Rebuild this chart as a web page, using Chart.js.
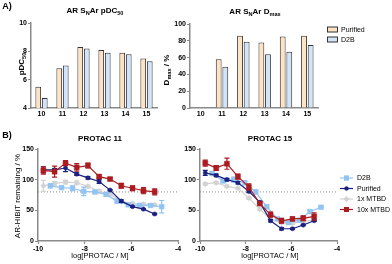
<!DOCTYPE html>
<html>
<head>
<meta charset="utf-8">
<script src="https://cdn.jsdelivr.net/npm/chart.js@4.4.1/dist/chart.umd.min.js"></script>
<style>
  html, body { margin: 0; padding: 0; background: #fff; }
  #fig { position: relative; width: 392px; height: 264px; overflow: hidden; font-family: "Liberation Sans", Arial, sans-serif; color: #000; }
  #fig canvas { position: absolute; left: 0; top: 0; }
  .lbl { position: absolute; white-space: nowrap; transform: translate(-50%, -50%); line-height: 1; }
  .rot { transform: translate(-50%, -50%) rotate(-90deg); }
  .b { font-weight: bold; }
  sub { font-size: 70%; vertical-align: -0.3em; line-height: 0; }
</style>
</head>
<body>
<div id="fig">
  <canvas id="cPdc" width="392" height="264"></canvas>
  <canvas id="cDmax" width="392" height="264"></canvas>
  <canvas id="cP11" width="392" height="264"></canvas>
  <canvas id="cP15" width="392" height="264"></canvas>

  <div class="lbl b" style="left:7px;top:6px;font-size:9px">A)</div>
  <div class="lbl b" style="left:7px;top:135px;font-size:9px">B)</div>

  <div class="lbl b" style="left:95px;top:11px;font-size:8px">AR S<sub>N</sub>Ar pDC<sub>50</sub></div>
  <div class="lbl b" style="left:255px;top:12px;font-size:8px">AR S<sub>N</sub>Ar D<sub>max</sub></div>
  <div class="lbl b rot" style="left:22px;top:64px;font-size:8px">pDC<sub>50</sub></div>
  <div class="lbl b rot" style="left:167px;top:70px;font-size:8px">D<sub>max</sub> / %</div>

  <div class="lbl b" style="left:100px;top:139px;font-size:8px">PROTAC 11</div>
  <div class="lbl b" style="left:270px;top:139px;font-size:8px">PROTAC 15</div>
  <div class="lbl rot" style="left:18px;top:196px;font-size:8px">AR-HiBiT remaining / %</div>
  <div class="lbl" style="left:100px;top:256px;font-size:7.5px">log[PROTAC / M]</div>
  <div class="lbl" style="left:270px;top:256px;font-size:7.5px">log[PROTAC / M]</div>
</div>

<script>
// ----------------------
// DATA
// ----------------------
const compounds = ["10", "11", "12", "13", "14", "15"];
const pdc50Purified = [5.5, 6.8, 8.3, 8.1, 7.9, 7.5];
const pdc50D2B = [4.7, 7.0, 8.2, 7.9, 7.8, 7.3];
const dmaxPurified = [null, 58, 86, 78, 85, 86];
const dmaxD2B = [null, 49, 79, 64, 67, 75];

const pdcTicks = [4, 6, 8, 10];
const dmaxTicks = [0, 20, 40, 60, 80, 100];
const remainTicks = [0, 50, 100, 150];
const logTicks = [-10, -8, -6, -4];
const cutoff = 80;

// 3-fold dilutions, log[PROTAC / M]
const logConc = [-9.77, -9.29, -8.82, -8.34, -7.86, -7.38, -6.91, -6.43, -5.95, -5.48, -5.0];
const logConcD2B = [-9.47, -8.99, -8.52, -8.04, -7.56, -7.08, -6.61, -6.13, -5.65, -5.18, -4.7];

// PROTAC 11
const p11D2B = [90, 87, 86, 81, 80, 76, 65, 59, 58, 58, 56];
const p11D2BErr = [3, 2, 4, 7, 2, 3, 3, 2, 2, 2, 10];
const p11Purified = [116, 116, 119, 109, 103, 97, 83, 65, 56, 52, 44];
const p11PurifiedErr = [5, 2, 6, 2, 2, 3, 1, 2, 1, 1, 1];
const p11Mtbd1 = [90, 94, 96, 95, 89, 81, 76, 65, 61, 60, 59];
const p11Mtbd1Err = [9, 3, 3, 3, 2, 2, 2, 2, 2, 2, 2];
const p11Mtbd10 = [115, 113, 127, 120, 123, 105, 101, 90, 86, 82, 80];
const p11Mtbd10Err = [6, 9, 4, 6, 4, 3, 2, 4, 4, 5, 5];

// PROTAC 15
const p15D2B = [110, 98, 100, 95, 80, 56, 36, 30, 34, 48, 55];
const p15D2BErr = [3, 3, 4, 3, 3, 2, 2, 2, 2, 2, 1];
const p15Purified = [111, 107, 100, 95, 81, 63, 33, 20, 20, 26, 33];
const p15PurifiedErr = [4, 2, 2, 2, 2, 2, 2, 2, 1, 1, 1];
const p15Mtbd1 = [93, 95, 89, 86, 70, 52, 35, 30, 29, 32, 34];
const p15Mtbd1Err = [2, 2, 2, 2, 2, 2, 2, 2, 2, 2, 2];
const p15Mtbd10 = [127, 119, 126, 105, 88, 61, 43, 33, 36, 37, 40];
const p15Mtbd10Err = [5, 4, 9, 4, 5, 3, 4, 4, 3, 4, 6];

// ----------------------
// STYLE
// ----------------------
const FONT = "'Liberation Sans', Arial, sans-serif";
const AXIS = "#8a8a8a";
const PEACH = "#fde3c3";
const SKY = "#d1e4f8";
const BAR_EDGE = "#333333";
const C_D2B = "#92c4f2";
const C_PUR = "#1b2080";
const C_M1 = "#d2d2d2";
const C_M10 = "#ab1b20";

const tickFont = { family: FONT, size: 7, weight: "bold" };

// ----------------------
// PLUGINS: error bars + side legend
// ----------------------
const errorBars = {
    id: "errorBars",
    beforeDatasetDraw(chart, args) {
        const ds = chart.data.datasets[args.index];
        if (!ds.errors) return;
        const ctx = chart.ctx;
        const xs = chart.scales.x, ys = chart.scales.y;
        ctx.save();
        ctx.strokeStyle = ds.borderColor;
        ctx.lineWidth = 1.2;
        ds.data.forEach((p, i) => {
            const e = ds.errors[i];
            if (!e) return;
            const x = xs.getPixelForValue(p.x);
            const yt = ys.getPixelForValue(p.y + e);
            const yb = ys.getPixelForValue(p.y - e);
            ctx.beginPath();
            ctx.moveTo(x, yt); ctx.lineTo(x, yb);
            ctx.moveTo(x - 2.5, yt); ctx.lineTo(x + 2.5, yt);
            ctx.moveTo(x - 2.5, yb); ctx.lineTo(x + 2.5, yb);
            ctx.stroke();
        });
        ctx.restore();
    }
};

const sideLegend = {
    id: "sideLegend",
    afterDraw(chart, args, opts) {
        if (!opts || !opts.kind) return;
        const ctx = chart.ctx;
        ctx.save();
        ctx.font = opts.font;
        ctx.textBaseline = "middle";
        let y = opts.y;
        chart.data.datasets.forEach(ds => {
            if (!ds.label) return;
            if (opts.kind === "box") {
                ctx.fillStyle = ds.backgroundColor;
                ctx.fillRect(opts.x, y - 2.5, 10, 5);
                ctx.strokeStyle = ds.borderColor;
                ctx.lineWidth = 1;
                ctx.strokeRect(opts.x + 0.5, y - 2.5, 10, 5);
                ctx.fillStyle = "#000";
                ctx.fillText(ds.label, opts.x + 14, y + 0.5);
            } else {
                ctx.strokeStyle = ds.borderColor;
                ctx.lineWidth = 1.2;
                ctx.beginPath();
                ctx.moveTo(opts.x, y); ctx.lineTo(opts.x + 13, y);
                ctx.stroke();
                ctx.fillStyle = ds.borderColor;
                Chart.helpers.drawPoint(ctx, {
                    pointStyle: ds.pointStyle, radius: ds.pointRadius, rotation: 0, borderWidth: 0
                }, opts.x + 6.5, y);
                ctx.fill();
                ctx.fillStyle = "#000";
                ctx.fillText(ds.label, opts.x + 17, y + 0.5);
            }
            y += opts.gap;
        });
        ctx.restore();
    }
};

// ----------------------
// BAR CHARTS (A)
// ----------------------
function barChart(id, area, yMin, yMax, yTicks, purified, d2b, legend) {
    return new Chart(document.getElementById(id), {
        type: "bar",
        data: {
            labels: compounds,
            datasets: [
                { label: "Purified", data: purified, backgroundColor: PEACH, borderColor: BAR_EDGE, borderWidth: 1 },
                { label: "D2B", data: d2b, backgroundColor: SKY, borderColor: BAR_EDGE, borderWidth: 1 }
            ]
        },
        options: {
            responsive: false,
            animation: false,
            events: [],
            categoryPercentage: 0.62,
            barPercentage: 0.88,
            layout: { padding: { left: area.left - 31, top: area.top, right: 392 - area.right, bottom: 264 - area.bottom - 20 } },
            plugins: { legend: { display: false }, tooltip: { enabled: false }, sideLegend: legend },
            scales: {
                x: {
                    afterFit: s => { s.height = 20; },
                    grid: { display: false, drawTicks: false },
                    border: { color: AXIS, width: 1.5 },
                    ticks: { font: tickFont, color: "#000", padding: 2 }
                },
                y: {
                    min: yMin, max: yMax,
                    afterFit: s => { s.width = 31; },
                    afterBuildTicks: s => { s.ticks = yTicks.map(v => ({ value: v })); },
                    grid: { drawOnChartArea: false, tickLength: 3, color: AXIS, tickWidth: 1.2 },
                    border: { color: AXIS, width: 1.5 },
                    ticks: { font: tickFont, color: "#000", padding: 1 }
                }
            }
        },
        plugins: [sideLegend]
    });
}

barChart("cPdc", { left: 31, right: 157, top: 23, bottom: 108 }, 4, 10, pdcTicks, pdc50Purified, pdc50D2B, {});
barChart("cDmax", { left: 190, right: 318, top: 24, bottom: 108 }, 0, 100, dmaxTicks, dmaxPurified, dmaxD2B,
    { kind: "box", x: 327, y: 29.5, gap: 10, font: "7px " + FONT });

// ----------------------
// DOSE-RESPONSE CHARTS (B)
// ----------------------
function pts(xs, ys) {
    return xs.map((x, i) => ({ x: x, y: ys[i] }));
}

function series(label, color, style, radius, xs, ys, errs, order) {
    return {
        label: label, data: pts(xs, ys), errors: errs, order: order,
        borderColor: color, backgroundColor: color, borderWidth: 1.2,
        pointStyle: style, pointRadius: radius, pointBackgroundColor: color,
        pointBorderColor: color, pointBorderWidth: 0.5, tension: 0
    };
}

function doseChart(id, area, yWidth, d2b, d2bErr, pur, purErr, m1, m1Err, m10, m10Err, legend) {
    return new Chart(document.getElementById(id), {
        type: "line",
        data: {
            datasets: [
                series("D2B", C_D2B, "rect", 3.4, logConcD2B, d2b, d2bErr, 2),
                series("Purified", C_PUR, "circle", 2.1, logConc, pur, purErr, 1),
                series("1x MTBD", C_M1, "rectRot", 2.8, logConc, m1, m1Err, 3),
                series("10x MTBD", C_M10, "rect", 3.5, logConc, m10, m10Err, 0),
                {
                    data: [{ x: logTicks[0], y: cutoff }, { x: logTicks[logTicks.length - 1], y: cutoff }],
                    borderColor: "#8c8c8c", borderWidth: 1, borderDash: [1, 2], pointRadius: 0, order: 9
                }
            ]
        },
        options: {
            responsive: false,
            animation: false,
            events: [],
            layout: { padding: { left: area.left - yWidth, top: area.top, right: 392 - area.right, bottom: 264 - area.bottom - 23 } },
            plugins: { legend: { display: false }, tooltip: { enabled: false }, sideLegend: legend },
            scales: {
                x: {
                    type: "linear",
                    min: logTicks[0], max: logTicks[logTicks.length - 1],
                    afterFit: s => { s.height = 23; },
                    afterBuildTicks: s => { s.ticks = logTicks.map(v => ({ value: v })); },
                    grid: { drawOnChartArea: false, tickLength: 3, color: AXIS, tickWidth: 1.2 },
                    border: { color: AXIS, width: 1.5 },
                    ticks: { font: tickFont, color: "#000", padding: 1, maxRotation: 0 }
                },
                y: {
                    min: remainTicks[0], max: remainTicks[remainTicks.length - 1],
                    afterFit: s => { s.width = yWidth; },
                    afterBuildTicks: s => { s.ticks = remainTicks.map(v => ({ value: v })); },
                    grid: { drawOnChartArea: false, tickLength: 3, color: AXIS, tickWidth: 1.2 },
                    border: { color: AXIS, width: 1.5 },
                    ticks: { font: tickFont, color: "#000", padding: 1 }
                }
            }
        },
        plugins: [errorBars, sideLegend]
    });
}

doseChart("cP11", { left: 38, right: 178, top: 149, bottom: 241 }, 38,
    p11D2B, p11D2BErr, p11Purified, p11PurifiedErr, p11Mtbd1, p11Mtbd1Err, p11Mtbd10, p11Mtbd10Err, {});
doseChart("cP15", { left: 200, right: 337, top: 149, bottom: 241 }, 30,
    p15D2B, p15D2BErr, p15Purified, p15PurifiedErr, p15Mtbd1, p15Mtbd1Err, p15Mtbd10, p15Mtbd10Err,
    { kind: "line", x: 340, y: 178, gap: 10.5, font: "7px " + FONT });
</script>
</body>
</html>
